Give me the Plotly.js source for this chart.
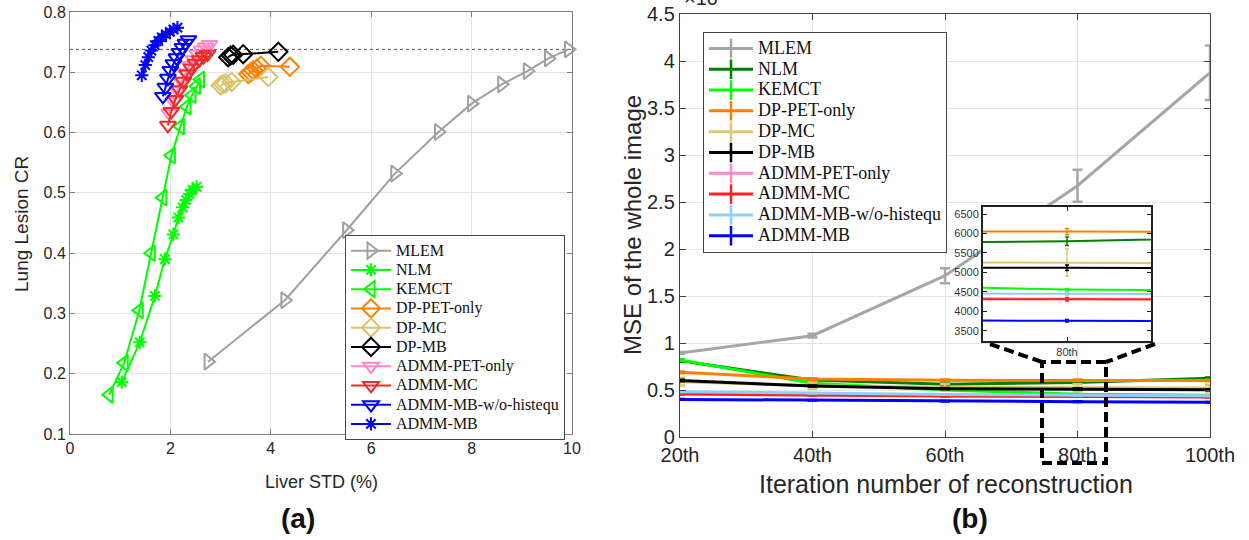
<!DOCTYPE html>
<html>
<head>
<meta charset="utf-8">
<script src="https://cdn.plot.ly/plotly-3.0.1.min.js"></script>
<style>html,body{margin:0;padding:0;background:#fff}#chart{width:1249px;height:540px}</style>
</head>
<body>
<div id="chart"></div>
<script>
// ---------- Panel (a): Lung lesion CR vs Liver STD ----------
var namesA = ['MLEM','NLM','KEMCT','DP-PET-only','DP-MC','DP-MB','ADMM-PET-only','ADMM-MC','ADMM-MB-w/o-histequ','ADMM-MB'];
var mlemX = [2.75, 4.28, 5.51, 6.47, 7.34, 8.0, 8.6, 9.11, 9.53, 9.93];
var mlemY = [0.220, 0.322, 0.438, 0.532, 0.601, 0.648, 0.680, 0.702, 0.723, 0.738];
var nlmX = [1.03, 1.39, 1.69, 1.89, 2.06, 2.16, 2.24, 2.31, 2.38, 2.44, 2.52];
var nlmY = [0.186, 0.252, 0.329, 0.390, 0.431, 0.459, 0.476, 0.488, 0.498, 0.505, 0.510];
var kemX = [0.78, 1.08, 1.38, 1.62, 1.85, 2.02, 2.2, 2.33, 2.43, 2.52, 2.6];
var kemY = [0.165, 0.218, 0.305, 0.400, 0.492, 0.562, 0.610, 0.643, 0.662, 0.677, 0.688];
var dppX = [3.55, 3.6, 3.65, 3.72, 3.8, 4.38];
var dppY = [0.697, 0.700, 0.703, 0.706, 0.711, 0.709];
var dpmcX = [3.0, 3.05, 3.1, 3.22, 3.95];
var dpmcY = [0.678, 0.680, 0.682, 0.684, 0.692];
var dpmbX = [3.15, 3.2, 3.25, 3.45, 4.15];
var dpmbY = [0.725, 0.728, 0.729, 0.730, 0.734];
var apX = [1.98, 2.06, 2.14, 2.22, 2.3, 2.38, 2.46, 2.54, 2.62, 2.7, 2.78];
var apY = [0.632, 0.652, 0.670, 0.685, 0.699, 0.711, 0.721, 0.730, 0.737, 0.742, 0.746];
var amcX = [1.95, 2.02, 2.1, 2.18, 2.26, 2.34, 2.42, 2.5, 2.58, 2.66, 2.74];
var amcY = [0.612, 0.635, 0.655, 0.671, 0.685, 0.697, 0.707, 0.715, 0.721, 0.726, 0.730];
var awoX = [1.85, 1.9, 1.95, 2.0, 2.06, 2.12, 2.18, 2.24, 2.3, 2.36];
var awoY = [0.660, 0.675, 0.690, 0.703, 0.714, 0.724, 0.733, 0.741, 0.748, 0.754];
var ambX = [1.43, 1.5, 1.56, 1.62, 1.69, 1.76, 1.83, 1.91, 1.99, 2.06, 2.14];
var ambY = [0.695, 0.712, 0.725, 0.736, 0.745, 0.752, 0.758, 0.763, 0.767, 0.771, 0.774];
var refCR = 0.738;
var xTicksA = [0, 2, 4, 6, 8, 10];
var yTicksA = [0.1, 0.2, 0.3, 0.4, 0.5, 0.6, 0.7, 0.8];

// ---------- Panel (b): MSE vs iteration ----------
var iters = [20, 40, 60, 80, 100];
var iterLabels = ['20th', '40th', '60th', '80th', '100th'];
var namesB = ['MLEM','NLM','KEMCT','DP-PET-only','DP-MC','DP-MB','ADMM-PET-only','ADMM-MC','ADMM-MB-w/o-histequ','ADMM-MB'];
var mseMLEM = [8940, 10780, 17160, 26730, 38760];
var errMLEM = [100, 200, 800, 1700, 2900];
var mseNLM = [8120, 6060, 5600, 5800, 6240];
var errNLM = [120, 100, 100, 110, 100];
var mseKEM = [8200, 5710, 5000, 4560, 4450];
var errKEM = [40, 30, 30, 30, 30];
var mseDPP = [6880, 6170, 6030, 6050, 6000];
var errDPP = [100, 90, 80, 80, 80];
var mseDPMC = [5890, 5450, 5300, 5250, 5200];
var errDPMC = [400, 350, 350, 350, 350];
var mseDPMB = [6000, 5430, 5140, 5120, 5030];
var errDPMB = [80, 60, 60, 70, 60];
var mseAP = [4700, 4500, 4380, 4330, 4280];
var errAP = [30, 30, 30, 30, 30];
var mseAMC = [4570, 4450, 4350, 4310, 4250];
var errAMC = [40, 40, 40, 40, 40];
var mseAWO = [4820, 4650, 4530, 4450, 4400];
var errAWO = [30, 30, 30, 30, 30];
var mseAMB = [4000, 3900, 3800, 3760, 3700];
var errAMB = [30, 30, 30, 30, 30];
var yTicksB = [0, 5000, 10000, 15000, 20000, 25000, 30000, 35000, 40000, 45000];
var yTickTextB = ['0', '0.5', '1', '1.5', '2', '2.5', '3', '3.5', '4', '4.5'];
var yTicksInset = [3500, 4000, 4500, 5000, 5500, 6000, 6500];

// ---------- styles ----------
var colA = ['#a0a0a0','#00ff00','#00ff00','#ff8000','#d8c46e','#000000','#ff88c8','#f02a2a','#0000ff','#0000ff'];
var symA = ['triangle-right-open','asterisk-open','triangle-left-open','diamond-open','diamond-open','diamond-open','triangle-down-open','triangle-down-open','triangle-down-open','asterisk-open'];
var colB = ['#a6a6a6','#008000','#00ff00','#ff8000','#dcc870','#000000','#ff88c8','#ff2020','#8ccfff','#0000ff'];

var W = 1249, H = 540;
function px(x){ return x / W; }
function py(y){ return 1 - y / H; }
function big(t, s){ return '<span style="font-size:' + s + 'px">' + t + '</span>'; }

var seriesA = [[mlemX,mlemY],[nlmX,nlmY],[kemX,kemY],[dppX,dppY],[dpmcX,dpmcY],[dpmbX,dpmbY],[apX,apY],[amcX,amcY],[awoX,awoY],[ambX,ambY]];
var seriesB = [[mseMLEM,errMLEM],[mseNLM,errNLM],[mseKEM,errKEM],[mseDPP,errDPP],[mseDPMC,errDPMC],[mseDPMB,errDPMB],[mseAP,errAP],[mseAMC,errAMC],[mseAWO,errAWO],[mseAMB,errAMB]];

var traces = [];
// reference dotted line
traces.push({x:[0,10], y:[refCR, refCR], xaxis:'x', yaxis:'y', mode:'lines', showlegend:false,
  line:{color:'#555', width:1, dash:'dot'}, hoverinfo:'skip'});
seriesA.forEach(function(s, i){
  var star = symA[i].indexOf('asterisk') === 0;
  traces.push({x:s[0], y:s[1], name:big(namesA[i], 16), xaxis:'x', yaxis:'y', mode:'lines+markers',
    legend:'legend', cliponaxis:false,
    line:{color:colA[i], width:2},
    marker:{symbol:symA[i], size: star ? 11 : 14, color:colA[i], line:{color:colA[i], width:2}}});
});
// panel b main
seriesB.forEach(function(s, i){
  traces.push({x:iters, y:s[0], xaxis:'x2', yaxis:'y2', mode:'lines', showlegend:false,
    cliponaxis:false, line:{color:colB[i], width:3},
    error_y:{type:'data', array:s[1], visible:true, color:colB[i], thickness:2.5, width:5}});
});
// legend entries for panel b
seriesB.forEach(function(s, i){
  traces.push({x:[null], y:[null], name:big(namesB[i], 18), xaxis:'x2', yaxis:'y2', mode:'lines+markers',
    legend:'legend2', line:{color:colB[i], width:3},
    marker:{symbol:'line-ns-open', size:14, color:colB[i], line:{color:colB[i], width:2.5}}});
});
// inset
seriesB.forEach(function(s, i){
  traces.push({x:iters, y:s[0], xaxis:'x3', yaxis:'y3', mode:'lines', showlegend:false,
    line:{color:colB[i], width:2},
    error_y:{type:'data', array:s[1], visible:true, color:colB[i], thickness:1.5, width:2}});
});

var SANS = 'Liberation Sans, Arial, sans-serif';
var tickFont = {family:SANS, size:16, color:'#262626'};
var tickFontB = {family:SANS, size:20, color:'#262626'};
function ann(text, x, y, size, angle, extra){
  var a = {text:text, xref:'paper', yref:'paper', x:px(x), y:py(y), xanchor:'center', yanchor:'middle',
    showarrow:false, textangle:angle || 0, font:{family:SANS, size:size, color:'#262626'}};
  for (var k in (extra || {})) a[k] = extra[k];
  return a;
}

var layout = {
  width:W, height:H,
  margin:{l:0, r:0, t:0, b:0},
  paper_bgcolor:'#fff', plot_bgcolor:'#fff',
  showlegend:true,
  xaxis:{domain:[px(70), px(572)], range:[0,10], tickvals:xTicksA, ticks:'inside', ticklen:5,
    mirror:'ticks', showline:true, linecolor:'#808080', linewidth:1, tickcolor:'#808080',
    showgrid:true, gridcolor:'#e4e4e4', zeroline:false, tickfont:tickFont, anchor:'y', fixedrange:true},
  yaxis:{domain:[py(434), py(12)], range:[0.1,0.8], tickvals:yTicksA, ticks:'inside', ticklen:5,
    mirror:'ticks', showline:true, linecolor:'#808080', linewidth:1, tickcolor:'#808080',
    showgrid:true, gridcolor:'#e4e4e4', zeroline:false, tickfont:tickFont, anchor:'x', fixedrange:true},
  xaxis2:{domain:[px(680), px(1210)], range:[20,100], tickvals:iters, ticktext:iterLabels,
    ticks:'inside', ticklen:6, mirror:'ticks', showline:true, linecolor:'#404040', linewidth:1.2, tickcolor:'#404040',
    showgrid:true, gridcolor:'#e4e4e4', zeroline:false, tickfont:tickFontB, anchor:'y2', fixedrange:true},
  yaxis2:{domain:[py(437), py(14)], range:[0,45000], tickvals:yTicksB, ticktext:yTickTextB,
    ticks:'inside', ticklen:6, mirror:'ticks', showline:true, linecolor:'#404040', linewidth:1.2, tickcolor:'#404040',
    showgrid:true, gridcolor:'#e4e4e4', zeroline:false, tickfont:tickFontB, anchor:'x2', fixedrange:true},
  xaxis3:{domain:[px(983), px(1151)], range:[78,82], tickvals:[80], ticktext:['80th'],
    ticks:'inside', ticklen:4, mirror:'ticks', showline:true, linecolor:'#222', linewidth:2, tickcolor:'#222',
    showgrid:false, zeroline:false, tickfont:{family:SANS, size:11, color:'#333'}, anchor:'y3', fixedrange:true},
  yaxis3:{domain:[py(341), py(207)], range:[3240,6680], tickvals:yTicksInset,
    ticks:'inside', ticklen:4, mirror:'ticks', showline:true, linecolor:'#222', linewidth:2, tickcolor:'#222',
    showgrid:false, zeroline:false, tickfont:{family:SANS, size:11, color:'#333'}, anchor:'x3', fixedrange:true},
  legend:{x:px(345), y:py(235), xanchor:'left', yanchor:'top', bgcolor:'#fff', bordercolor:'#444', borderwidth:1,
    font:{family:'Liberation Serif, Times New Roman, serif', size:12.5, color:'#111'}, itemwidth:40, tracegroupgap:0},
  legend2:{x:px(703), y:py(32), xanchor:'left', yanchor:'top', bgcolor:'#fff', bordercolor:'#444', borderwidth:1,
    font:{family:'Liberation Serif, Times New Roman, serif', size:13.7, color:'#111'}, itemwidth:44, tracegroupgap:0},
  shapes:[
    {type:'rect', xref:'paper', yref:'paper', x0:px(1042), x1:px(1106), y0:py(463), y1:py(362),
      line:{color:'#000', width:4, dash:'10px,5px'}, fillcolor:'rgba(0,0,0,0)'},
    {type:'line', xref:'paper', yref:'paper', x0:px(990), y0:py(344), x1:px(1042), y1:py(362),
      line:{color:'#000', width:4, dash:'10px,5px'}},
    {type:'line', xref:'paper', yref:'paper', x0:px(1155), y0:py(344), x1:px(1106), y1:py(362),
      line:{color:'#000', width:4, dash:'10px,5px'}}
  ],
  annotations:[
    ann('Lung Lesion CR', 22, 224, 19, -90),
    ann('Liver STD (%)', 321, 482, 18),
    ann('MSE of the whole image', 632, 225, 24, -90),
    ann('Iteration number of reconstruction', 946, 484, 25),
    ann('\u00d710<sup>4</sup>', 682, 11, 20, 0, {xanchor:'left', yanchor:'bottom'}),
    ann('<b>(a)</b>', 298, 518, 28, 0, {font:{family:SANS, size:28, color:'#111'}}),
    ann('<b>(b)</b>', 970, 518, 28, 0, {font:{family:SANS, size:28, color:'#111'}})
  ]
};

Plotly.newPlot('chart', traces, layout, {staticPlot:true, displayModeBar:false});
</script>
</body>
</html>
